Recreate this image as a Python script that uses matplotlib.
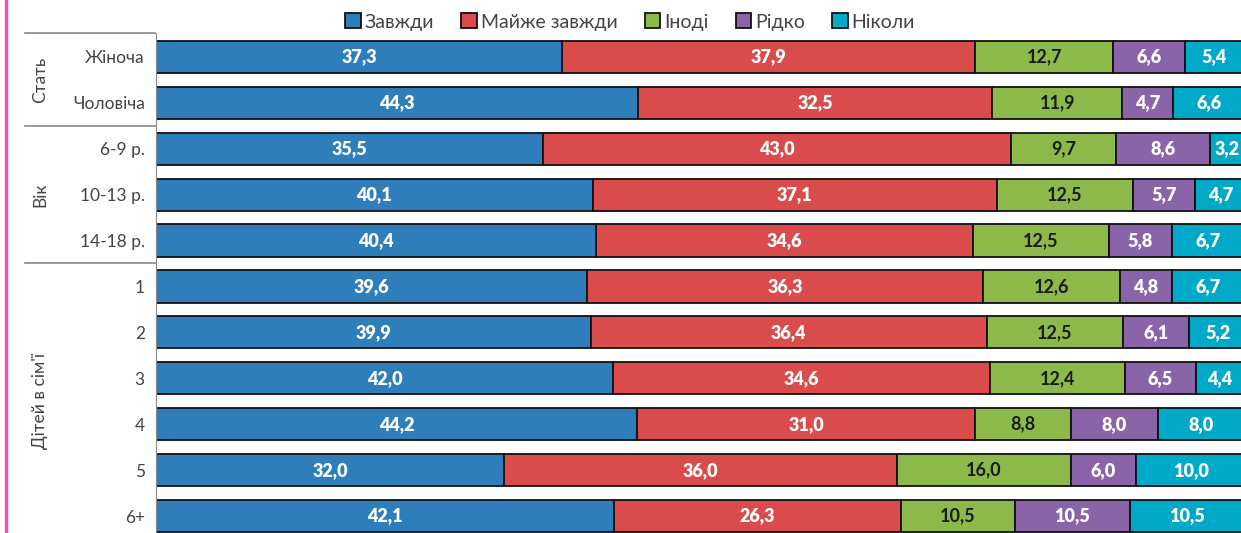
import matplotlib.pyplot as plt
import matplotlib.transforms as mtransforms
import numpy as np

plt.rcParams['font.family'] = ['Lato', 'DejaVu Sans']

categories = ['Жіноча', 'Чоловіча', '6-9 р.', '10-13 р.', '14-18 р.',
              '1', '2', '3', '4', '5', '6+']
series_names = ['Завжди', 'Майже завжди', 'Іноді', 'Рідко', 'Ніколи']
always = [37.3, 44.3, 35.5, 40.1, 40.4, 39.6, 39.9, 42.0, 44.2, 32.0, 42.1]
almost = [37.9, 32.5, 43.0, 37.1, 34.6, 36.3, 36.4, 34.6, 31.0, 36.0, 26.3]
sometimes = [12.7, 11.9, 9.7, 12.5, 12.5, 12.6, 12.5, 12.4, 8.8, 16.0, 10.5]
rarely = [6.6, 4.7, 8.6, 5.7, 5.8, 4.8, 6.1, 6.5, 8.0, 6.0, 10.5]
never = [5.4, 6.6, 3.2, 4.7, 6.7, 6.7, 5.2, 4.4, 8.0, 10.0, 10.5]
groups = [('Стать', 0, 1), ('Вік', 2, 4), ("Дітей в сім'ї", 5, 10)]

colors = ['#2e7ebb', '#d94c4b', '#8db94a', '#8a64a8', '#00a9c8']
label_colors = ['white', 'white', '#1a1a1a', 'white', 'white']
label_weights = ['heavy', 'heavy', 'bold', 'heavy', 'heavy']

W, H = 1241, 533
fig = plt.figure(figsize=(W / 100, H / 100), dpi=100)
ax = fig.add_axes([156 / W, 0, (1245 - 156) / W, 500 / H])

y = np.arange(len(categories))
left = np.zeros(len(categories))
for vals, name, c, lc, lw in zip([always, almost, sometimes, rarely, never],
                                 series_names, colors, label_colors,
                                 label_weights):
    vals = np.array(vals)
    ax.barh(y, vals, left=left, height=0.7, color=c, edgecolor='#111111',
            linewidth=1.3, label=name)
    for yi, l, v in zip(y, left, vals):
        ax.text(l + v / 2, yi, f'{v:.1f}'.replace('.', ','), ha='center',
                va='center', color=lc, fontsize=13, fontweight=lw)
    left += vals

ax.set_xlim(0, 100)
ax.set_ylim(10.37, -0.52)
ax.set_xticks([])
ax.set_yticks(y)
ax.set_yticklabels(categories, fontsize=12.5, color='#444444')
ax.tick_params(axis='y', length=0, pad=8)
for s in ['top', 'right', 'bottom']:
    ax.spines[s].set_visible(False)
ax.spines['left'].set_color('#888888')

# group separators and labels
tr = mtransforms.blended_transform_factory(fig.transFigure, ax.transData)
for yy in [-0.52, 1.5, 4.5]:
    ax.plot([25 / W, 155 / W], [yy, yy], transform=tr, color='#888888',
            lw=1.2, clip_on=False)
for name, a, b in groups:
    ax.text(40 / W, (a + b) / 2, name, transform=tr, rotation=90,
            ha='center', va='center', fontsize=12.5, color='#444444')

# pink page border
fig.add_artist(plt.Line2D([6 / W, 6 / W], [0, 1], color='#f54fbf', lw=2.5))

fig.legend(loc='center', bbox_to_anchor=(630 / W, 1 - 22 / H), ncol=5,
           frameon=False, fontsize=14, handlelength=0.8, handleheight=0.8,
           handletextpad=0.2, columnspacing=1.4, labelcolor='#444444')

fig.savefig('out.png', dpi=100)
